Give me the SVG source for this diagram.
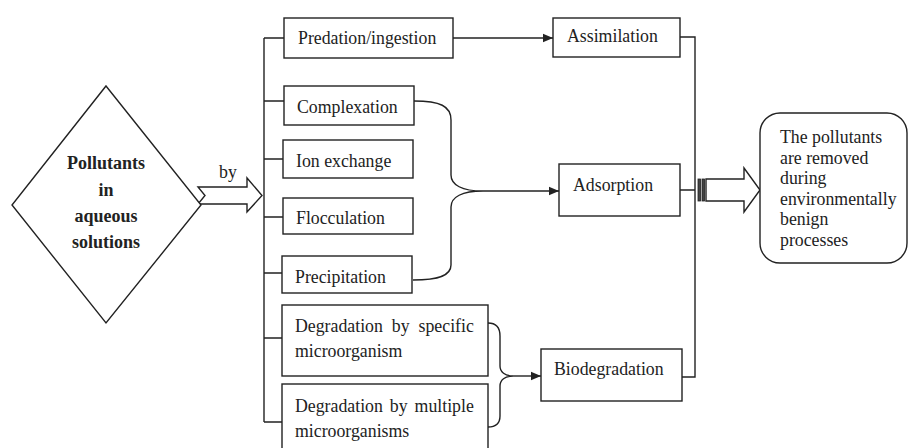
<svg xmlns="http://www.w3.org/2000/svg" width="908" height="448" viewBox="0 0 908 448">
<defs>
<style>
.box{fill:#fff;stroke:#222;stroke-width:1.4}
.ln{fill:none;stroke:#222;stroke-width:1.4}
.t{font-family:"Liberation Serif","Times New Roman",serif;font-size:17.8px;fill:#222}
.b{font-family:"Liberation Serif","Times New Roman",serif;font-size:18px;font-weight:bold;fill:#222}
</style>
<marker id="ah" viewBox="0 0 10 10" refX="10" refY="5" markerWidth="10" markerHeight="10" markerUnits="userSpaceOnUse" orient="auto">
<path d="M0,0.8 L10,5 L0,9.2 Z" fill="#222"/>
</marker>
</defs>
<rect width="908" height="448" fill="#fff"/>

<g id="connectors">
<path class="ln" d="M264,38 V422"/>
<path class="ln" d="M264,38 H284 M264,101 H284 M264,159 H283 M264,217 H283 M264,273 H282 M264,338 H282 M264,422 H282"/>
<path class="ln" d="M453,38 H553" marker-end="url(#ah)"/>
<path class="ln" d="M414,101 C440,101 451,106 451,120 V175 C451,185 462,191 483,191 C462,191 451,197 451,207 V265 C451,275 440,280 413,280"/>
<path class="ln" d="M483,191 H559" marker-end="url(#ah)"/>
<path class="ln" d="M488,323 C496,323 500,327 500,336 V366 C500,372 505,376 513,376 C505,376 500,380 500,386 V416 C500,424 496,427 488,427"/>
<path class="ln" d="M513,376 H541" marker-end="url(#ah)"/>
<path class="ln" d="M680,37 H695 V377 H682 M680,190 H695"/>
<polygon class="box" points="198,187 247,187 247,178 262,195.5 247,212 247,204 198,204 205,195.5"/>
<rect x="698" y="179" width="2.6" height="22" fill="#444" stroke="#222" stroke-width="0.8"/>
<rect x="702" y="179" width="2.6" height="22" fill="#444" stroke="#222" stroke-width="0.8"/>
<polygon class="box" points="706,179 744,179 744,168 760,190 744,212 744,201 706,201"/>
<text class="t" x="219" y="178">by</text>
</g>

<g id="pollutants">
<polygon class="box" points="106,86 201,205 106,323 12,205"/>
<text class="b" x="106" y="169" text-anchor="middle">Pollutants</text>
<text class="b" x="106" y="196" text-anchor="middle">in</text>
<text class="b" x="106" y="222" text-anchor="middle">aqueous</text>
<text class="b" x="106" y="248" text-anchor="middle">solutions</text>
</g>

<g id="predation">
<rect class="box" x="284" y="18" width="169" height="40"/>
<text class="t" x="298" y="43.5">Predation/ingestion</text>
</g>
<g id="assimilation">
<rect class="box" x="553" y="18" width="127" height="39"/>
<text class="t" x="567" y="42">Assimilation</text>
</g>
<g id="complexation">
<rect class="box" x="284" y="86" width="130" height="39"/>
<text class="t" x="297" y="113">Complexation</text>
</g>
<g id="ionexchange">
<rect class="box" x="283" y="140" width="130" height="38"/>
<text class="t" x="296" y="167">Ion exchange</text>
</g>
<g id="flocculation">
<rect class="box" x="283" y="198" width="130" height="36"/>
<text class="t" x="296" y="224">Flocculation</text>
</g>
<g id="precipitation">
<rect class="box" x="282" y="256" width="130" height="37"/>
<text class="t" x="295" y="283">Precipitation</text>
</g>
<g id="adsorption">
<rect class="box" x="559" y="164" width="121" height="52"/>
<text class="t" x="573" y="191">Adsorption</text>
</g>
<g id="deg-specific">
<rect class="box" x="282" y="305" width="206" height="71"/>
<text class="t" x="295" y="332" word-spacing="4.5">Degradation by specific</text>
<text class="t" x="295" y="357">microorganism</text>
</g>
<g id="deg-multiple">
<rect class="box" x="282" y="384" width="206" height="80"/>
<text class="t" x="295" y="412" word-spacing="2.5">Degradation by multiple</text>
<text class="t" x="295" y="437">microorganisms</text>
</g>
<g id="biodegradation">
<rect class="box" x="541" y="349" width="141" height="52"/>
<text class="t" x="554" y="375">Biodegradation</text>
</g>
<g id="result">
<rect class="box" x="760" y="113" width="147" height="150" rx="20" ry="20"/>
<text class="t" x="780" y="143">The pollutants</text>
<text class="t" x="780" y="163.6">are removed</text>
<text class="t" x="780" y="184.2">during</text>
<text class="t" x="780" y="204.8">environmentally</text>
<text class="t" x="780" y="225.4">benign</text>
<text class="t" x="780" y="246">processes</text>
</g>
</svg>
